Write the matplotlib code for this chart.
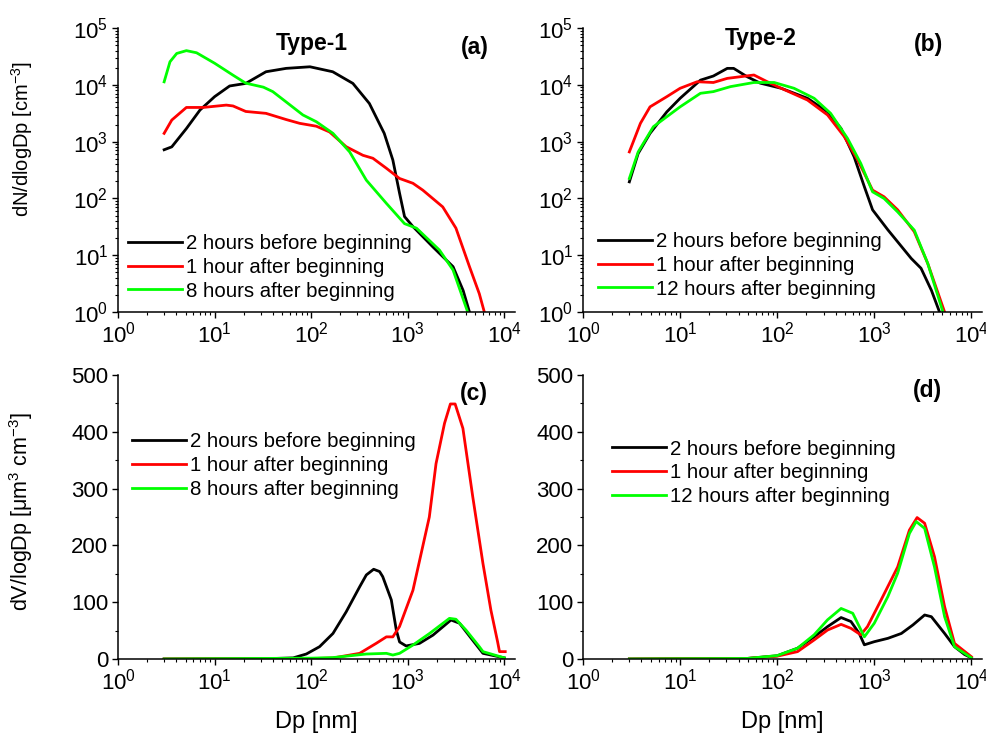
import matplotlib
matplotlib.use("Agg")
import matplotlib.pyplot as plt
from matplotlib.ticker import LogLocator, MultipleLocator, NullFormatter

plt.rcParams['font.family'] = ['Liberation Sans', 'DejaVu Sans']
plt.rcParams['mathtext.fontset'] = 'custom'
plt.rcParams['mathtext.rm'] = 'Liberation Sans'
plt.rcParams['mathtext.it'] = 'Liberation Sans:italic'
plt.rcParams['mathtext.bf'] = 'Liberation Sans:bold'

# ---- number distributions (a) Type-1 ----
a_black_x = [3.0, 3.6, 5.1, 7.05, 10, 14.3, 21, 34, 55, 97, 167, 270, 400, 570, 700, 822, 925, 1130, 1820, 2940, 3740, 4350]
a_black_y = [720, 810, 1700, 3600, 6200, 9550, 10600, 17000, 19500, 20800, 17000, 10600, 4700, 1400, 475, 123, 48, 32, 14, 6.3, 2.4, 1.0]
a_red_x = [3.0, 3.6, 5.1, 7.6, 13.2, 15.5, 21, 34, 55, 76, 113, 155, 230, 343, 435, 600, 820, 1130, 1430, 2300, 3150, 4350, 5500, 6200]
a_red_y = [1400, 2400, 4000, 4000, 4400, 4250, 3400, 3150, 2450, 2100, 1870, 1480, 815, 575, 510, 340, 225, 185, 140, 71, 30, 6.3, 2.1, 1.0]
a_green_x = [3.0, 3.45, 4.05, 5.1, 6.5, 10, 15.5, 21, 32, 40, 55, 82, 113, 168, 250, 372, 600, 925, 1230, 2130, 2940, 4170]
a_green_y = [11300, 25500, 35700, 40000, 36700, 24000, 14800, 10700, 9100, 7600, 5000, 2950, 2240, 1400, 660, 210, 82, 36, 30, 12.3, 5.5, 1.0]

# ---- number distributions (b) Type-2 ----
b_black_x = [3.0, 3.7, 4.9, 7.3, 10, 16.2, 22, 30.6, 35.6, 49, 67, 110, 205, 330, 455, 620, 790, 960, 1380, 2400, 3030, 3880, 4700]
b_black_y = [196, 620, 1400, 3350, 5800, 12100, 14300, 19500, 19500, 13900, 10700, 8700, 5800, 3350, 1700, 540, 161, 63, 28, 8.8, 5.9, 2.4, 1.0]
b_red_x = [3.0, 3.9, 4.9, 7.3, 10, 15, 22, 30.6, 57.6, 79, 110, 205, 330, 490, 675, 960, 1260, 1740, 2580, 3550, 5300]
b_red_y = [660, 2100, 4100, 6200, 8700, 11350, 11000, 13000, 14900, 11350, 8700, 5400, 2950, 1230, 475, 140, 107, 63, 26, 7.2, 1.0]
b_green_x = [3.0, 3.7, 5.3, 7.3, 10, 16.2, 22, 33, 57.6, 93, 149, 240, 355, 530, 725, 960, 1260, 1740, 2580, 3550, 5100]
b_green_y = [225, 660, 1830, 2750, 4100, 7100, 7600, 9300, 11000, 11000, 8700, 5800, 3150, 1140, 415, 131, 100, 58, 27.7, 7.2, 1.0]

# ---- volume distributions (c) Type-1 ----
c_black_x = [3, 34, 65, 89, 122, 168, 230, 317, 372, 443, 510, 550, 675, 760, 822, 960, 1320, 1820, 2800, 3430, 4700, 6000, 10000]
c_black_y = [0, 0.5, 2, 8.8, 21.7, 45, 83, 127, 148, 158, 154, 145, 104, 51, 30, 23, 27.5, 42, 68.7, 63, 33, 10, 2]
c_red_x = [3, 100, 168, 317, 470, 600, 700, 820, 1130, 1670, 1960, 2400, 2760, 3090, 3720, 4700, 6000, 7250, 8500, 8900, 10200]
c_red_y = [0, 0.8, 1.8, 10, 27.5, 39, 39, 57, 121, 250, 344, 415, 449, 449, 406, 286, 168, 86, 30.5, 13, 13]
c_green_x = [3, 100, 168, 372, 600, 700, 822, 1130, 1680, 2700, 3150, 4000, 5500, 6000, 10000]
c_green_y = [0, 1.5, 2.5, 8.8, 10, 7, 10, 24.6, 45, 71.6, 70, 51, 21.7, 13, 2]

# ---- volume distributions (d) Type-2 ----
d_black_x = [3, 49, 100, 162, 240, 330, 455, 575, 700, 790, 1000, 1380, 1900, 2500, 3300, 3870, 5300, 6700, 8500, 10000]
d_black_y = [0, 1, 5.7, 19, 39, 57, 73, 66, 45, 25, 30.5, 36.4, 45, 60, 77.5, 74.5, 45, 21.7, 8, 2]
d_red_x = [3, 49, 100, 162, 240, 330, 455, 575, 725, 850, 1175, 1740, 2300, 2760, 3300, 4170, 5300, 6700, 10000]
d_red_y = [0, 1, 5, 13, 33.5, 51, 61, 54, 42.6, 57, 104, 162, 227, 249, 239, 180, 92, 27.5, 4]
d_green_x = [3, 49, 100, 162, 240, 330, 455, 600, 790, 1000, 1380, 1740, 2300, 2700, 3300, 4170, 5300, 6700, 10000]
d_green_y = [0, 1, 6, 19, 42.6, 69, 89, 80.5, 39, 63, 110, 151, 221, 242, 230, 162, 74.5, 21.7, 2]

labels_1 = ["2 hours before beginning", "1 hour after beginning", "8 hours after beginning"]
labels_2 = ["2 hours before beginning", "1 hour after beginning", "12 hours after beginning"]
colors = ["black", "#ff0000", "#00ff00"]

fig = plt.figure(figsize=(9.87, 7.36), dpi=100)
ax_a = fig.add_axes([0.1196, 0.576, 0.4022, 0.3859])
ax_b = fig.add_axes([0.5907, 0.576, 0.4043, 0.3859])
ax_c = fig.add_axes([0.1196, 0.1046, 0.4022, 0.3859])
ax_d = fig.add_axes([0.5907, 0.1046, 0.4043, 0.3859])

series = {
    ax_a: [(a_black_x, a_black_y), (a_red_x, a_red_y), (a_green_x, a_green_y)],
    ax_b: [(b_black_x, b_black_y), (b_red_x, b_red_y), (b_green_x, b_green_y)],
    ax_c: [(c_black_x, c_black_y), (c_red_x, c_red_y), (c_green_x, c_green_y)],
    ax_d: [(d_black_x, d_black_y), (d_red_x, d_red_y), (d_green_x, d_green_y)],
}
labs = {ax_a: labels_1, ax_b: labels_2, ax_c: labels_1, ax_d: labels_2}
leg_pos = {ax_a: (0.025, 0.158), ax_b: (0.038, 0.165), ax_c: (0.035, 0.68), ax_d: (0.073, 0.655)}

for ax, data in series.items():
    for (x, y), c, l in zip(data, colors, labs[ax]):
        ax.plot(x, y, color=c, lw=2.0, label=l)
    ax.set_xscale("log")
    ax.set_xlim(1, 10**4.11)
    ax.xaxis.set_major_locator(LogLocator(base=10, numticks=10))
    ax.xaxis.set_minor_locator(LogLocator(base=10, subs=range(2, 10), numticks=20))
    ax.xaxis.set_minor_formatter(NullFormatter())
    for s in ["top", "right"]:
        ax.spines[s].set_visible(False)
    for s in ["left", "bottom"]:
        ax.spines[s].set_linewidth(1.1)
    ax.tick_params(which="major", direction="out", length=4, width=1.0, labelsize=16, pad=3)
    ax.tick_params(which="minor", direction="out", length=2.5, width=0.8)
    ax.legend(loc="center left", bbox_to_anchor=leg_pos[ax], frameon=False, fontsize=14.7,
              handlelength=2.65, handletextpad=0.2, labelspacing=0.24, borderpad=0, borderaxespad=0)

for ax in (ax_a, ax_b):
    ax.set_yscale("log")
    ax.set_ylim(1, 1e5)
    ax.yaxis.set_major_locator(LogLocator(base=10, numticks=10))
    ax.yaxis.set_minor_locator(LogLocator(base=10, subs=range(2, 10), numticks=20))
    ax.yaxis.set_minor_formatter(NullFormatter())

for ax in (ax_c, ax_d):
    ax.set_ylim(0, 500)
    ax.yaxis.set_major_locator(MultipleLocator(100))
    ax.yaxis.set_minor_locator(MultipleLocator(50))
    ax.set_xlabel("Dp [nm]", fontsize=17, labelpad=12)

ax_a.set_ylabel("dN/dlogDp [cm$^{-3}$]", fontsize=14.5)
ax_a.yaxis.set_label_coords(-0.209, 0.61)
ax_c.set_ylabel("dV/logDp [μm$^{3}$ cm$^{-3}$]", fontsize=15.5)
ax_c.yaxis.set_label_coords(-0.209, 0.52)

ax_a.text(0.489, 0.923, "Type-1", transform=ax_a.transAxes, ha="center", va="baseline", fontsize=16.5, fontweight="bold")
ax_b.text(0.446, 0.940, "Type-2", transform=ax_b.transAxes, ha="center", va="baseline", fontsize=16.5, fontweight="bold")
ax_a.text(0.899, 0.91, "(a)", transform=ax_a.transAxes, ha="center", va="baseline", fontsize=16.5, fontweight="bold")
ax_b.text(0.865, 0.92, "(b)", transform=ax_b.transAxes, ha="center", va="baseline", fontsize=16.5, fontweight="bold")
ax_c.text(0.897, 0.912, "(c)", transform=ax_c.transAxes, ha="center", va="baseline", fontsize=16.5, fontweight="bold")
ax_d.text(0.862, 0.922, "(d)", transform=ax_d.transAxes, ha="center", va="baseline", fontsize=16.5, fontweight="bold")

fig.savefig("out.png", dpi=100)
